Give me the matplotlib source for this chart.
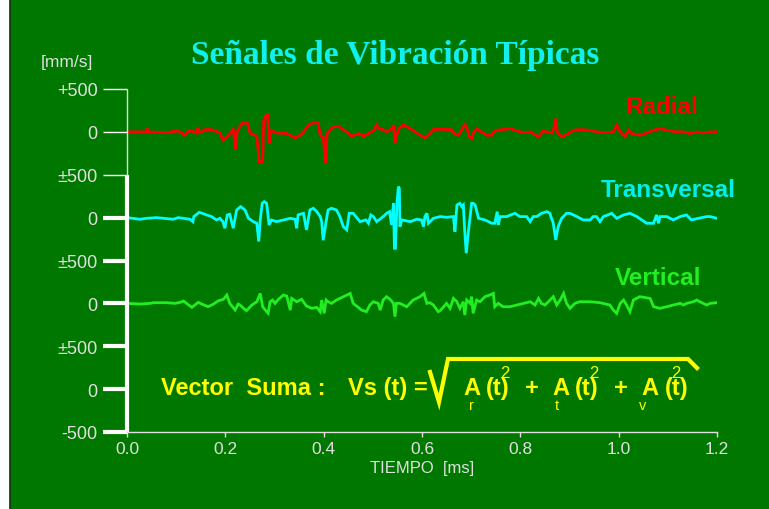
import matplotlib
matplotlib.use("Agg")
import matplotlib.pyplot as plt
from matplotlib.patches import Rectangle
from matplotlib.lines import Line2D

plt.rcParams['font.family'] = ['Liberation Sans', 'DejaVu Sans']

# --- datos (tiempo en ms, velocidad en mm/s) ---
radial_t = [0.000, 0.040, 0.041, 0.042, 0.081, 0.104, 0.118, 0.125, 0.135, 0.140,
            0.144, 0.148, 0.159, 0.172, 0.189, 0.195, 0.203, 0.216, 0.221, 0.224,
            0.233, 0.245, 0.250, 0.264, 0.269, 0.276, 0.278, 0.283, 0.286, 0.289,
            0.292, 0.304, 0.325, 0.342, 0.352, 0.359, 0.369, 0.379, 0.389, 0.393,
            0.399, 0.404, 0.407, 0.420, 0.430, 0.440, 0.457, 0.471, 0.481, 0.491,
            0.501, 0.508, 0.511, 0.521, 0.528, 0.538, 0.542, 0.545, 0.552, 0.562,
            0.576, 0.589, 0.606, 0.616, 0.623, 0.637, 0.650, 0.660, 0.664, 0.674,
            0.681, 0.687, 0.691, 0.696, 0.701, 0.704, 0.711, 0.721, 0.732, 0.742,
            0.746, 0.752, 0.765, 0.779, 0.799, 0.813, 0.820, 0.826, 0.837, 0.847,
            0.854, 0.864, 0.868, 0.872, 0.875, 0.884, 0.891, 0.898, 0.908, 0.921,
            0.942, 0.955, 0.976, 0.989, 0.996, 1.003, 1.013, 1.020, 1.026, 1.043,
            1.057, 1.071, 1.084, 1.098, 1.118, 1.132, 1.145, 1.159, 1.172, 1.186,
            1.200]
radial_v = [0, 0, 39, 0, -8, 12, -39, 12, 4, -12,
            39, -12, 27, 27, -12, -97, -58, 27, -205, 0,
            97, 105, -12, -50, -349, -349, 136, 194, 194, -136,
            19, -12, -19, -70, -39, 0, 78, 105, 105, -39,
            -58, -368, -19, 58, 66, 27, -50, -19, -50, -19,
            12, 81, 39, 27, 0, 39, 78, -136, 39, 81,
            39, -12, -70, -19, 27, 31, 27, 27, -12, -39,
            27, 85, 58, -58, -78, -19, 39, 0, -39, -39,
            0, 19, 27, 39, 0, -8, 0, -19, -58, 12,
            0, -12, 39, 155, 0, -58, -39, -19, 19, 27,
            19, 0, -8, 0, 78, 0, -58, 19, -19, -39,
            -12, 19, 39, 19, 0, 0, -19, 0, -12, 0,
            0]

trans_t = [0.000, 0.026, 0.040, 0.060, 0.074, 0.094, 0.104, 0.115, 0.128, 0.134,
           0.136, 0.147, 0.162, 0.172, 0.182, 0.189, 0.195, 0.199, 0.204, 0.209,
           0.216, 0.223, 0.231, 0.240, 0.247, 0.257, 0.264, 0.268, 0.271, 0.275,
           0.279, 0.284, 0.289, 0.294, 0.304, 0.318, 0.332, 0.342, 0.345, 0.348,
           0.359, 0.365, 0.372, 0.379, 0.386, 0.393, 0.396, 0.399, 0.405, 0.409,
           0.416, 0.426, 0.433, 0.440, 0.447, 0.452, 0.460, 0.474, 0.486, 0.491,
           0.496, 0.501, 0.508, 0.521, 0.528, 0.534, 0.538, 0.542, 0.544, 0.546,
           0.549, 0.552, 0.554, 0.555, 0.559, 0.576, 0.589, 0.599, 0.603, 0.606,
           0.610, 0.613, 0.623, 0.637, 0.650, 0.664, 0.667, 0.671, 0.677, 0.681,
           0.684, 0.687, 0.690, 0.694, 0.701, 0.704, 0.708, 0.715, 0.728, 0.742,
           0.748, 0.753, 0.755, 0.759, 0.772, 0.789, 0.799, 0.813, 0.820, 0.826,
           0.833, 0.843, 0.854, 0.860, 0.867, 0.872, 0.877, 0.884, 0.894, 0.901,
           0.915, 0.928, 0.942, 0.948, 0.955, 0.962, 0.969, 0.986, 0.989, 0.996,
           1.010, 1.023, 1.037, 1.057, 1.071, 1.077, 1.081, 1.084, 1.098, 1.111,
           1.125, 1.138, 1.148, 1.162, 1.179, 1.186, 1.200]
trans_v = [0, -19, -8, 0, -8, -19, 0, -8, -19, -47,
           12, 62, 31, 12, -27, -8, -47, -124, 31, 39,
           -124, 89, 128, 89, -8, -47, -66, -279, -27, 167,
           186, 167, -85, -27, -47, -27, -8, -19, -124, 31,
           50, -143, 89, 109, 70, 12, -47, -264, -47, 89,
           109, 89, 12, -105, -143, 50, 50, -47, -27, -66,
           31, 12, -47, 12, 50, 70, -85, 167, -357, -357,
           167, 361, 341, -105, -27, -47, -19, -27, -105, 12,
           50, -66, -8, 12, 4, 12, -163, 147, 167, 128,
           147, -163, -415, -182, 167, 167, 147, -8, -27, -66,
           -66, 70, -85, 12, 12, 50, 12, 12, -47, 12,
           12, 50, 70, 50, -66, -260, -105, -8, 50, 50,
           12, -27, -27, 12, 12, -47, 12, 50, 31, -8,
           31, 50, 12, -66, -66, 31, -66, 12, 12, -27,
           12, 31, -27, -8, 12, 12, -8]

vert_t = [0.000, 0.026, 0.047, 0.054, 0.081, 0.098, 0.108, 0.115, 0.121, 0.132,
          0.138, 0.145, 0.152, 0.165, 0.176, 0.186, 0.196, 0.203, 0.209, 0.220,
          0.226, 0.230, 0.237, 0.243, 0.254, 0.264, 0.271, 0.276, 0.284, 0.287,
          0.291, 0.296, 0.301, 0.308, 0.318, 0.325, 0.332, 0.335, 0.345, 0.355,
          0.365, 0.376, 0.386, 0.393, 0.396, 0.401, 0.405, 0.409, 0.416, 0.426,
          0.447, 0.454, 0.460, 0.467, 0.477, 0.487, 0.494, 0.501, 0.511, 0.515,
          0.521, 0.528, 0.535, 0.542, 0.545, 0.548, 0.555, 0.569, 0.582, 0.596,
          0.604, 0.610, 0.616, 0.623, 0.633, 0.637, 0.650, 0.657, 0.664, 0.671,
          0.677, 0.684, 0.687, 0.691, 0.698, 0.701, 0.704, 0.711, 0.718, 0.728,
          0.738, 0.745, 0.748, 0.755, 0.765, 0.779, 0.793, 0.806, 0.820, 0.830,
          0.837, 0.843, 0.850, 0.857, 0.867, 0.874, 0.881, 0.888, 0.894, 0.901,
          0.911, 0.921, 0.942, 0.962, 0.982, 0.989, 0.996, 1.003, 1.010, 1.016,
          1.023, 1.030, 1.043, 1.064, 1.071, 1.084, 1.098, 1.111, 1.125, 1.132,
          1.138, 1.152, 1.159, 1.165, 1.179, 1.186, 1.200]
vert_v = [0, -8, 0, 8, 8, 0, 12, 27, 0, -47,
          -19, 12, -8, -39, -8, 31, 47, 97, 0, -78,
          -8, -19, -58, -85, -19, 19, 116, -39, -97, -116,
          19, 39, 0, 47, 97, 85, -78, 58, 19, 47,
          -31, -58, -47, -97, 39, -116, 39, 19, 0, 39,
          97, 116, 0, -31, -78, -97, -19, 19, 0, -78,
          39, 78, 47, 0, -155, 0, 0, -39, 39, 78,
          116, 0, 8, -19, -97, -85, 0, -58, 58, 19,
          -58, 19, -136, 39, 0, 78, -116, 39, 19, 78,
          97, 116, -39, 0, -39, -39, -19, 0, 19, -19,
          58, 0, -19, 19, 78, -19, 39, 116, 0, -58,
          0, 19, 19, 8, -19, -78, -116, 0, 39, -19,
          -97, 39, 78, 58, -39, -58, -39, -19, 0, -19,
          0, 19, 39, 19, -19, 0, 8]

x_ticks = [0.0, 0.2, 0.4, 0.6, 0.8, 1.0, 1.2]
x_labels = ['0.0', '0.2', '0.4', '0.6', '0.8', '1.0', '1.2']
y_ticks = [-500, 0, 500, 1000, 1500, 2000, 2500, 3000, 3500]
y_labels = ['-500', '0', '±500', '0', '±500', '0', '±500', '0', '+500']

W, H = 769, 510
def fx(x):
    return x / W
def fy(y):
    return 1 - y / H

verde = '#007800'
gris = '#e0e0e0'
amarillo = '#ffff00'

fig = plt.figure(figsize=(W / 100, H / 100), dpi=100)
fig.patch.set_facecolor('white')
fig.add_artist(Rectangle((fx(10), fy(520)), fx(780), 520 / H, transform=fig.transFigure,
                         facecolor=verde, edgecolor='#103010', linewidth=1.2, zorder=0))

ax = fig.add_axes([fx(127), fy(433), fx(717) - fx(127), fy(90) - fy(433)])
ax.set_facecolor('none')
ax.set_xlim(0, 1.2)
ax.set_ylim(-500, 3500)

# cada canal desplazado en el eje vertical
ax.plot(radial_t, [v + 3000 for v in radial_v], color='#ff0000', lw=2.0, solid_joinstyle='miter')
ax.plot(trans_t, [v + 2000 for v in trans_v], color='#00ffff', lw=2.0, solid_joinstyle='miter')
ax.plot(vert_t, [v + 1000 for v in vert_v], color='#22ee22', lw=2.0, solid_joinstyle='miter')

for s in ['top', 'right', 'left']:
    ax.spines[s].set_visible(False)
ax.spines['bottom'].set_color(gris)
ax.spines['bottom'].set_linewidth(1)

ax.plot([0, 0], [-500, 2500], color='white', lw=3, clip_on=False, solid_capstyle='butt')
ax.plot([0, 0], [2500, 3500], color=gris, lw=1, clip_on=False, solid_capstyle='butt')

ax.set_xticks(x_ticks)
ax.set_xticklabels(x_labels)
ax.set_yticks(y_ticks)
ax.set_yticklabels(y_labels)
ax.tick_params(axis='x', length=3.6, width=1, color=gris, labelcolor=gris, labelsize=12.5, pad=3)
ax.tick_params(axis='y', length=17, width=3, color='white', labelcolor=gris, labelsize=13, pad=4)
for tk in ax.yaxis.get_major_ticks()[6:]:
    tk.tick1line.set_markeredgewidth(1)
    tk.tick1line.set_color(gris)

ax.set_xlabel('TIEMPO  [ms]', color=gris, fontsize=12, labelpad=3)

fig.text(fx(395), fy(64), 'Señales de Vibración Típicas', color='#10f0f0', fontsize=24,
         fontweight='bold', family='Liberation Serif', ha='center', va='baseline')
fig.text(fx(67), fy(63), '[mm/s]', color=gris, fontsize=12.5, ha='center', va='center')

fig.text(fx(625), fy(114), 'Radial', color='#ff0000', fontsize=17.5, fontweight='bold', va='baseline')
fig.text(fx(601), fy(197), 'Transversal', color='#00eeee', fontsize=17.5, fontweight='bold', va='baseline')
fig.text(fx(615), fy(285), 'Vertical', color='#22ee22', fontsize=17.5, fontweight='bold', va='baseline')

# formula del vector suma
fb = dict(color=amarillo, fontsize=17, fontweight='bold', va='baseline')
fig.text(fx(161), fy(395), 'Vector  Suma :', **fb)
fig.text(fx(348), fy(395), 'Vs (t) =', **fb)
for xa, xp, sub, xs, x2 in [(463, 486, 'r', 469, 500), (552, 575, 't', 555, 589), (641, 665, 'v', 639, 671)]:
    fig.text(fx(xa), fy(395), 'A', **fb)
    fig.text(fx(xp), fy(395), '(t)', **fb)
    fig.text(fx(xs), fy(410), sub, color=amarillo, fontsize=10.5, va='baseline')
    fig.text(fx(x2), fy(378), '2', color=amarillo, fontsize=12, va='baseline')
fig.text(fx(525), fy(395), '+', **fb)
fig.text(fx(614), fy(395), '+', **fb)
rx = [430, 439, 448, 688, 697]
ry = [373, 403, 360, 360, 369]
fig.add_artist(Line2D([fx(x) for x in rx], [fy(y) for y in ry], color=amarillo, lw=3,
                      transform=fig.transFigure, solid_joinstyle='miter'))

fig.savefig('out.png', dpi=100, facecolor=fig.get_facecolor())
